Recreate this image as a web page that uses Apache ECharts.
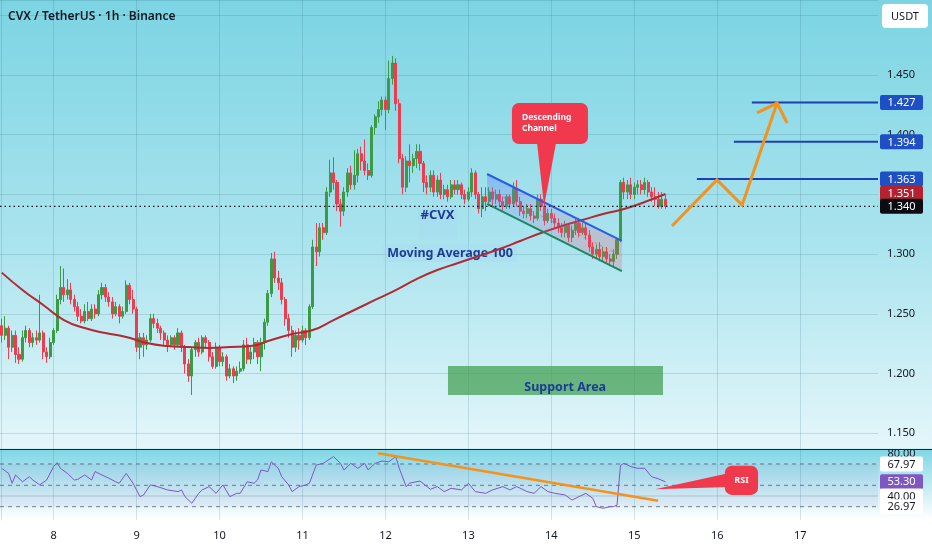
<!DOCTYPE html>
<html>
<head>
<meta charset="utf-8">
<script src="https://cdn.jsdelivr.net/npm/echarts@6/dist/echarts.min.js"></script>
<style>html,body{margin:0;padding:0;background:#fff}#c{width:932px;height:550px}</style>
</head>
<body>
<div id="c"></div>
<script>
// ---------- time slots (1h) ----------
const START_DAY = 7, START_HOUR = 9, SLOTS = 254;
const categories = [];
for (let i = 0; i < SLOTS; i++) {
  const t = START_HOUR + i;
  categories.push((START_DAY + Math.floor(t / 24)) + ' ' + String(t % 24).padStart(2, '0') + ':00');
}

// ---------- candles [open, close, low, high] ----------
const candles = [
[1.240,1.232,1.226,1.246],[1.232,1.238,1.228,1.248],[1.238,1.222,1.212,1.240],[1.222,1.232,1.218,1.236],
[1.232,1.216,1.209,1.236],[1.216,1.212,1.208,1.222],[1.212,1.230,1.210,1.236],[1.230,1.236,1.226,1.240],
[1.236,1.226,1.222,1.238],[1.226,1.230,1.222,1.234],[1.230,1.228,1.224,1.236],[1.228,1.234,1.226,1.266],
[1.234,1.218,1.212,1.236],[1.218,1.214,1.209,1.222],[1.214,1.226,1.212,1.230],[1.226,1.236,1.224,1.238],
[1.236,1.262,1.234,1.266],[1.262,1.272,1.258,1.290],[1.272,1.266,1.260,1.288],[1.266,1.270,1.262,1.279],
[1.270,1.262,1.258,1.276],[1.262,1.256,1.252,1.266],[1.256,1.248,1.244,1.260],[1.248,1.244,1.242,1.254],
[1.244,1.252,1.242,1.258],[1.252,1.246,1.244,1.260],[1.246,1.254,1.244,1.258],[1.254,1.250,1.246,1.258],
[1.250,1.266,1.248,1.270],[1.266,1.272,1.262,1.276],[1.272,1.264,1.260,1.275],[1.264,1.260,1.256,1.268],
[1.260,1.250,1.246,1.264],[1.250,1.256,1.248,1.260],[1.256,1.248,1.242,1.258],[1.248,1.252,1.246,1.256],
[1.252,1.274,1.250,1.278],[1.274,1.262,1.258,1.276],[1.262,1.254,1.250,1.270],[1.254,1.222,1.218,1.256],
[1.222,1.230,1.212,1.234],[1.230,1.224,1.214,1.234],[1.224,1.228,1.220,1.232],[1.228,1.246,1.226,1.250],
[1.246,1.242,1.238,1.250],[1.242,1.238,1.234,1.246],[1.238,1.234,1.228,1.240],[1.234,1.228,1.224,1.236],
[1.228,1.224,1.218,1.232],[1.224,1.230,1.222,1.232],[1.230,1.224,1.220,1.232],[1.224,1.234,1.222,1.238],
[1.234,1.222,1.218,1.236],[1.222,1.208,1.200,1.224],[1.208,1.198,1.193,1.212],[1.198,1.220,1.182,1.222],
[1.220,1.226,1.214,1.228],[1.226,1.218,1.214,1.230],[1.218,1.230,1.216,1.232],[1.230,1.226,1.222,1.232],
[1.226,1.214,1.210,1.228],[1.214,1.206,1.204,1.218],[1.206,1.222,1.204,1.226],[1.222,1.210,1.206,1.224],
[1.210,1.214,1.206,1.218],[1.214,1.198,1.194,1.216],[1.198,1.204,1.196,1.208],[1.204,1.198,1.192,1.206],
[1.198,1.202,1.194,1.206],[1.202,1.204,1.200,1.210],[1.204,1.224,1.202,1.228],[1.224,1.212,1.208,1.230],
[1.212,1.218,1.208,1.222],[1.218,1.226,1.212,1.230],[1.226,1.214,1.208,1.228],[1.214,1.226,1.202,1.230],
[1.226,1.243,1.220,1.246],[1.243,1.267,1.240,1.270],[1.267,1.296,1.264,1.301],[1.296,1.280,1.276,1.302],
[1.280,1.276,1.270,1.286],[1.276,1.262,1.258,1.280],[1.262,1.246,1.240,1.264],[1.246,1.236,1.230,1.250],
[1.236,1.222,1.214,1.240],[1.222,1.232,1.218,1.236],[1.232,1.228,1.220,1.238],[1.228,1.236,1.226,1.240],
[1.236,1.230,1.224,1.238],[1.230,1.256,1.228,1.258],[1.256,1.306,1.254,1.312],[1.306,1.302,1.290,1.326],
[1.302,1.322,1.298,1.326],[1.322,1.318,1.312,1.326],[1.318,1.352,1.316,1.356],[1.352,1.368,1.348,1.379],
[1.368,1.360,1.354,1.381],[1.360,1.342,1.336,1.362],[1.342,1.336,1.323,1.346],[1.336,1.352,1.332,1.356],
[1.352,1.368,1.348,1.372],[1.368,1.358,1.354,1.374],[1.358,1.366,1.354,1.387],[1.366,1.384,1.360,1.388],
[1.384,1.378,1.370,1.390],[1.378,1.370,1.366,1.396],[1.370,1.366,1.362,1.376],[1.366,1.406,1.364,1.408],
[1.406,1.415,1.400,1.417],[1.415,1.421,1.410,1.428],[1.421,1.429,1.416,1.432],[1.429,1.421,1.404,1.432],
[1.421,1.447,1.418,1.462],[1.447,1.460,1.442,1.466],[1.460,1.426,1.420,1.464],[1.426,1.380,1.376,1.430],
[1.380,1.356,1.350,1.384],[1.356,1.378,1.352,1.382],[1.378,1.374,1.360,1.392],[1.374,1.380,1.368,1.384],
[1.380,1.386,1.372,1.392],[1.386,1.376,1.370,1.392],[1.376,1.360,1.352,1.378],[1.360,1.356,1.350,1.366],
[1.356,1.366,1.352,1.370],[1.366,1.352,1.348,1.370],[1.352,1.362,1.348,1.366],[1.362,1.350,1.346,1.368],
[1.350,1.354,1.346,1.358],[1.354,1.348,1.344,1.358],[1.348,1.358,1.346,1.362],[1.358,1.354,1.350,1.362],
[1.354,1.358,1.350,1.362],[1.358,1.350,1.346,1.360],[1.350,1.346,1.342,1.354],[1.346,1.352,1.344,1.356],
[1.352,1.368,1.348,1.372],[1.368,1.350,1.346,1.370],[1.350,1.338,1.334,1.352],[1.338,1.348,1.331,1.356],
[1.348,1.344,1.336,1.356],[1.344,1.352,1.340,1.356],[1.352,1.346,1.340,1.356],[1.346,1.350,1.342,1.354],
[1.350,1.344,1.340,1.354],[1.344,1.340,1.336,1.348],[1.340,1.348,1.338,1.350],[1.348,1.342,1.338,1.350],
[1.342,1.355,1.340,1.360],[1.355,1.344,1.340,1.362],[1.344,1.336,1.332,1.348],[1.336,1.334,1.330,1.340],
[1.334,1.338,1.330,1.342],[1.338,1.332,1.328,1.342],[1.332,1.330,1.326,1.336],[1.330,1.346,1.328,1.350],
[1.346,1.340,1.336,1.350],[1.340,1.328,1.324,1.344],[1.328,1.334,1.326,1.338],[1.334,1.330,1.326,1.338],
[1.330,1.326,1.322,1.334],[1.326,1.322,1.318,1.330],[1.322,1.318,1.314,1.326],[1.318,1.324,1.314,1.328],
[1.324,1.314,1.310,1.326],[1.314,1.320,1.310,1.324],[1.320,1.326,1.316,1.330],[1.326,1.318,1.314,1.330],
[1.318,1.322,1.316,1.326],[1.322,1.316,1.312,1.326],[1.316,1.306,1.302,1.320],[1.306,1.300,1.296,1.310],
[1.300,1.304,1.296,1.308],[1.304,1.298,1.294,1.310],[1.298,1.302,1.294,1.306],[1.302,1.296,1.292,1.306],
[1.296,1.294,1.290,1.300],[1.294,1.300,1.290,1.304],[1.300,1.312,1.296,1.314],[1.312,1.360,1.310,1.362],
[1.360,1.352,1.346,1.364],[1.352,1.358,1.346,1.362],[1.358,1.350,1.346,1.364],[1.350,1.356,1.346,1.360],
[1.356,1.358,1.350,1.362],[1.358,1.354,1.350,1.362],[1.354,1.360,1.350,1.364],[1.360,1.352,1.348,1.362],
[1.352,1.348,1.344,1.356],[1.348,1.346,1.340,1.356],[1.346,1.340,1.338,1.352],[1.340,1.346,1.338,1.352],
[1.346,1.340,1.338,1.350]
];

// ---------- Moving Average 100 (read points) ----------
const maIdx = [0,6,12,18,24,30,36,42,48,54,60,66,72,78,84,90,96,102,108,114,120,126,132,138,144,150,156,162,168,174,180,186,192];
const maVal = [1.2845,1.2700,1.2574,1.2448,1.2381,1.2339,1.2306,1.2255,1.2230,1.2222,1.2214,1.2222,1.2230,1.2281,1.2331,1.2364,1.2448,1.2532,1.2616,1.2699,1.2791,1.2867,1.2925,1.2984,1.3043,1.3110,1.3177,1.3235,1.3286,1.3336,1.3378,1.3436,1.3503];

// ---------- RSI (read points) ----------
const rsiIdx = [0,2,3,4,6,8,9,11,13,15,16,17,19,21,22,24,26,27,29,31,33,34,36,38,40,41,43,45,48,51,52,53,55,57,58,60,62,64,66,68,69,71,73,74,75,77,78,80,81,83,84,86,88,89,91,93,96,98,99,101,103,105,106,108,110,112,113,114,115,117,118,121,124,126,128,130,133,135,137,140,142,145,147,149,152,154,156,158,160,163,165,167,169,171,172,174,176,177,178,179,180,182,184,186,188,190,192];
const rsiVal = [65.9,61.2,51.9,59.7,53.3,58.1,55.0,50.4,55.0,67.5,71.2,65.9,61.2,55.0,55.6,59.7,55.0,62.9,59.7,56.6,53.3,51.9,61.2,51.9,39.4,40.9,50.4,48.8,45.7,44.1,45.7,39.4,33.2,42.5,45.7,48.8,42.5,50.4,39.4,42.5,42.5,53.3,51.9,55.0,64.3,62.9,72.0,65.9,58.1,50.4,44.1,48.8,50.4,51.9,69.0,70.6,76.9,70.6,64.3,70.6,65.9,70.6,64.4,70.6,72.8,72.0,74.6,76.9,66.0,48.8,52.0,54.0,46.3,48.8,44.1,47.2,45.7,51.9,44.1,42.5,45.7,48.8,45.7,48.8,44.1,42.5,48.8,44.1,42.5,40.9,36.2,39.4,42.5,37.8,30.0,28.5,30.0,30.0,31.5,68.6,70.6,67.5,65.9,66.0,58.1,56.0,53.3];

// ---------- price levels & tags ----------
const targetLevels = [1.427, 1.394, 1.363];
const targetStart = [217.0, 211.8, 201.1];
const lastPrice = 1.340;
const maLast = 1.351;
const priceTags = [
  {v: 1.427, t: '1.427', bg: '#1f4fc4', fg: '#ffffff'},
  {v: 1.394, t: '1.394', bg: '#1f4fc4', fg: '#ffffff'},
  {v: 1.363, t: '1.363', bg: '#1f4fc4', fg: '#ffffff'},
  {v: maLast, t: '1.351', bg: '#b4222f', fg: '#ffffff'},
  {v: lastPrice, t: '1.340', bg: '#0b0d12', fg: '#ffffff'}
];

// ---------- drawings (in data units: slot index, price) ----------
const zigzag = [[193.9,1.3235],[206.9,1.3621],[214.2,1.3411],[224.3,1.4265]];
const arrowHead = [[218.5,1.4182],[224.3,1.4265],[227.2,1.4098]];
const channelUpper = [[140.4,1.3671],[179.4,1.3110]];
const channelLower = [[140.4,1.3420],[179.4,1.2858]];
const supportZone = [[129.1,1.2063],[191.3,1.1820]];
const calloutBox = [[147.6,1.4266],[169.6,1.3922]];
const calloutTip = [[154.9,1.3922],[156.9,1.3403],[160.3,1.3922]];
const cvxBox = [[120.4,1.3386],[131.7,1.3118]];
const maBox = [[110.3,1.3085],[149.1,1.2934]];

// ---------- RSI drawings (slot index, RSI value) ----------
const rsiBands = [70, 50, 30];
const rsiGrid = [40];
const rsiTrend = [[108.9,80.0],[189.9,35.5]];
const rsiCalloutBox = [[209.2,68.4],[218.8,41.0]];
const rsiCalloutTip = [[210.2,61.3],[189.0,46.3],[210.2,48.5]];
const rsiTags = [
  {v: 80, t: '80.00', bg: null, fg: '#131722'},
  {v: 70, t: '67.97', bg: '#ffffff', fg: '#131722'},
  {v: 53.3, t: '53.30', bg: '#7e57c2', fg: '#ffffff'},
  {v: 40, t: '40.00', bg: '#ffffff', fg: '#131722'},
  {v: 30, t: '26.97', bg: '#ffffff', fg: '#131722'}
];

const FONT = '"Noto Sans", "DejaVu Sans", sans-serif';
const TEXT_BLUE = '#1d3c95';
const isDay = (i, v) => typeof v === 'string' ? v.endsWith(' 00:00') : categories[i].endsWith(' 00:00');
const gridColor = 'rgba(30,90,110,0.16)';

function seg(a, b, style) {
  return {type: 'line', shape: {x1: a[0], y1: a[1], x2: b[0], y2: b[1]}, style: style};
}
function rectFrom(a, b, style, r) {
  return {type: 'rect', shape: {x: Math.min(a[0], b[0]), y: Math.min(a[1], b[1]), width: Math.abs(b[0] - a[0]), height: Math.abs(b[1] - a[1]), r: r || 0}, style: style};
}
function tag(k, x, y, t, bg, fg) {
  if (bg) k.push({type: 'rect', shape: {x: x + 2, y: y - 7.5, width: 43, height: 15, r: 2}, style: {fill: bg}});
  k.push({type: 'text', x: x + 23.5, y: y + 0.5, style: {text: t, fill: fg, font: '11px ' + FONT, align: 'center', verticalAlign: 'middle'}});
}

function mainBack(params, api) {
  const P = p => api.coord(p);
  const k = [];
  k.push(rectFrom(P(supportZone[0]), P(supportZone[1]), {fill: 'rgba(62,158,78,0.72)'}));
  k.push(rectFrom(P(cvxBox[0]), P(cvxBox[1]), {fill: 'rgba(170,215,240,0.35)'}));
  k.push(rectFrom(P(maBox[0]), P(maBox[1]), {fill: 'rgba(170,215,240,0.35)'}));
  const c1 = P([(cvxBox[0][0] + cvxBox[1][0]) / 2, 1.3325]);
  k.push({type: 'text', x: c1[0], y: c1[1], style: {text: '#CVX', fill: TEXT_BLUE, font: 'bold 13px ' + FONT, align: 'center', verticalAlign: 'middle'}});
  const c2 = P([(maBox[0][0] + maBox[1][0]) / 2, 1.3009]);
  k.push({type: 'text', x: c2[0], y: c2[1], style: {text: 'Moving Average 100', fill: TEXT_BLUE, font: 'bold 12.5px ' + FONT, align: 'center', verticalAlign: 'middle'}});
  const c3 = P([163.0, 1.1887]);
  k.push({type: 'text', x: c3[0], y: c3[1], style: {text: 'Support Area', fill: TEXT_BLUE, font: 'bold 12.5px ' + FONT, align: 'center', verticalAlign: 'middle'}});
  return {type: 'group', children: k};
}

function mainFront(params, api) {
  const P = p => api.coord(p);
  const k = [];
  const gl = api.coord([-0.5, 1.3])[0], gr = api.coord([SLOTS - 0.5, 1.3])[0];
  // channel fill (over candles, translucent)
  const u0 = P(channelUpper[0]), u1 = P(channelUpper[1]), l0 = P(channelLower[0]), l1 = P(channelLower[1]);
  const m0 = [(u0[0] + l0[0]) / 2, (u0[1] + l0[1]) / 2], m1 = [(u1[0] + l1[0]) / 2, (u1[1] + l1[1]) / 2];
  k.push({type: 'polygon', shape: {points: [u0, u1, l1, l0]}, style: {
    fill: new echarts.graphic.LinearGradient(0, 0, 0.35, 1, [
      {offset: 0, color: 'rgba(70,120,255,0.34)'},
      {offset: 0.5, color: 'rgba(150,130,220,0.22)'},
      {offset: 1, color: 'rgba(240,80,110,0.24)'}
    ])}});
  k.push(seg(m0, m1, {stroke: 'rgba(230,60,80,0.45)', lineWidth: 1, lineDash: [3, 3]}));
  k.push(seg(u0, u1, {stroke: '#2c5ce6', lineWidth: 2}));
  k.push(seg(l0, l1, {stroke: '#168a62', lineWidth: 2}));
  const yl = P([0, lastPrice])[1];
  k.push(seg([gl, yl], [gr, yl], {stroke: '#131722', lineWidth: 1.3, lineDash: [1.5, 3]}));
  targetLevels.forEach((v, i) => {
    const a = P([targetStart[i], v]);
    k.push(seg(a, [gr, a[1]], {stroke: '#1d3fb2', lineWidth: 2}));
  });
  k.push({type: 'polyline', shape: {points: zigzag.map(p => P(p))}, style: {stroke: '#f4921e', lineWidth: 3, fill: 'none', lineJoin: 'miter'}});
  k.push({type: 'polyline', shape: {points: arrowHead.map(p => P(p))}, style: {stroke: '#f4921e', lineWidth: 3, fill: 'none'}});
  // callout
  const RED = '#f0394c';
  k.push({type: 'polygon', shape: {points: calloutTip.map(p => P(p))}, style: {fill: RED}});
  k.push(rectFrom(P(calloutBox[0]), P(calloutBox[1]), {fill: RED}, 7));
  const t1 = P([150.5, 1.4140]), t2 = P([150.5, 1.4048]);
  k.push({type: 'text', x: t1[0], y: t1[1], style: {text: 'Descending', fill: '#ffffff', font: 'bold 8.5px ' + FONT, align: 'left', verticalAlign: 'middle'}});
  k.push({type: 'text', x: t2[0], y: t2[1], style: {text: 'Channel', fill: '#ffffff', font: 'bold 8.5px ' + FONT, align: 'left', verticalAlign: 'middle'}});
  priceTags.forEach(t => tag(k, gr, P([0, t.v])[1], t.t, t.bg, t.fg));
  return {type: 'group', children: k};
}

function rsiBack(params, api) {
  const P = p => api.coord(p);
  const k = [];
  const gl = api.coord([-0.5, 50])[0], gr = api.coord([SLOTS - 0.5, 50])[0];
  const top = P([0, rsiBands[0]])[1], bot = P([0, rsiBands[2]])[1];
  k.push({type: 'rect', shape: {x: gl, y: top, width: gr - gl, height: bot - top}, style: {fill: 'rgba(126,87,194,0.07)'}});
  rsiGrid.forEach(v => { const y = P([0, v])[1]; k.push(seg([gl, y], [gr, y], {stroke: 'rgba(90,110,120,0.3)', lineWidth: 1})); });
  rsiBands.forEach(v => { const y = P([0, v])[1]; k.push(seg([gl, y], [gr, y], {stroke: 'rgba(70,80,95,0.7)', lineWidth: 1, lineDash: [4, 4]})); });
  return {type: 'group', children: k};
}

function rsiFront(params, api) {
  const P = p => api.coord(p);
  const k = [];
  const gr = api.coord([SLOTS - 0.5, 50])[0];
  k.push(seg(P(rsiTrend[0]), P(rsiTrend[1]), {stroke: '#f4921e', lineWidth: 2.5}));
  const RED = '#f0394c';
  k.push({type: 'polygon', shape: {points: rsiCalloutTip.map(p => P(p))}, style: {fill: RED}});
  k.push(rectFrom(P(rsiCalloutBox[0]), P(rsiCalloutBox[1]), {fill: RED}, 7));
  const c = P([(rsiCalloutBox[0][0] + rsiCalloutBox[1][0]) / 2, (rsiCalloutBox[0][1] + rsiCalloutBox[1][1]) / 2]);
  k.push({type: 'text', x: c[0], y: c[1], style: {text: 'RSI', fill: '#ffffff', font: 'bold 9px ' + FONT, align: 'center', verticalAlign: 'middle'}});
  rsiTags.forEach(t => tag(k, gr, P([0, t.v])[1], t.t, t.bg, t.fg));
  return {type: 'group', children: k};
}

const chart = echarts.init(document.getElementById('c'));
chart.setOption({
  animation: false,
  backgroundColor: {
    type: 'linear', x: 0, y: 0, x2: 0, y2: 1,
    colorStops: [
      {offset: 0, color: '#7cd4e3'},
      {offset: 0.45, color: '#abe4ee'},
      {offset: 0.815, color: '#e4f6fa'},
      {offset: 0.817, color: '#80d6e5'},
      {offset: 0.945, color: '#ffffff'},
      {offset: 1, color: '#ffffff'}
    ]
  },
  grid: [
    {left: 0, right: 54, top: 0, height: 449},
    {left: 0, right: 54, top: 450, height: 70}
  ],
  xAxis: [
    {type: 'category', gridIndex: 0, data: categories, boundaryGap: true,
     axisLine: {show: false}, axisTick: {show: false, alignWithLabel: true}, axisLabel: {show: false},
     splitLine: {show: true, interval: isDay, alignWithLabel: true, lineStyle: {color: gridColor}}},
    {type: 'category', gridIndex: 1, data: categories, boundaryGap: true,
     axisLine: {show: false}, axisTick: {show: false, alignWithLabel: true},
     axisLabel: {show: true, interval: isDay, formatter: v => v.split(' ')[0], color: '#131722', fontSize: 11, fontFamily: FONT, margin: 10},
     splitLine: {show: true, interval: isDay, alignWithLabel: true, lineStyle: {color: gridColor}}},
    {type: 'value', gridIndex: 0, min: -0.5, max: SLOTS - 0.5, show: false},
    {type: 'value', gridIndex: 1, min: -0.5, max: SLOTS - 0.5, show: false}
  ],
  yAxis: [
    {type: 'value', gridIndex: 0, position: 'right', min: 1.1368, max: 1.5128, splitNumber: 8, scale: true,
     axisLine: {show: true, lineStyle: {color: 'rgba(60,90,100,0.18)'}}, axisTick: {show: false},
     axisLabel: {color: '#131722', fontSize: 11, fontFamily: FONT, margin: 9, showMinLabel: false, showMaxLabel: false,
       formatter: v => { const q = Math.round(v / 0.05); return (Math.abs(v - q * 0.05) > 1e-6 || q * 0.05 > 1.475) ? '' : v.toFixed(3); }},
     splitLine: {show: true, lineStyle: {color: gridColor}}},
    {type: 'value', gridIndex: 1, position: 'right', min: 17.5, max: 83.1,
     axisLine: {show: true, lineStyle: {color: 'rgba(60,90,100,0.18)'}}, axisTick: {show: false},
     axisLabel: {show: false}, splitLine: {show: false}}
  ],
  series: [
    {type: 'custom', xAxisIndex: 2, yAxisIndex: 0, data: [[0, 1.3]], renderItem: mainBack, z: 1, silent: true},
    {type: 'candlestick', xAxisIndex: 0, yAxisIndex: 0, data: candles, barWidth: '74%', z: 2,
     itemStyle: {color: '#3a9a46', color0: '#ee3b4d', borderColor: '#3a9a46', borderColor0: '#ee3b4d', borderWidth: 1}},
    {type: 'line', xAxisIndex: 2, yAxisIndex: 0, data: maIdx.map((x, i) => [x, maVal[i]]), smooth: true, symbol: 'none', z: 3,
     lineStyle: {color: '#b02a35', width: 2}},
    {type: 'custom', xAxisIndex: 2, yAxisIndex: 0, data: [[0, 1.3]], renderItem: mainFront, z: 5, silent: true},
    {type: 'custom', xAxisIndex: 3, yAxisIndex: 1, data: [[0, 50]], renderItem: rsiBack, z: 1, silent: true},
    {type: 'line', xAxisIndex: 3, yAxisIndex: 1, data: rsiIdx.map((x, i) => [x, rsiVal[i]]), symbol: 'none', z: 3,
     lineStyle: {color: '#7e57c2', width: 1}},
    {type: 'custom', xAxisIndex: 3, yAxisIndex: 1, data: [[0, 50]], renderItem: rsiFront, z: 5, silent: true}
  ],
  graphic: [
    {type: 'line', shape: {x1: 0, y1: 449.5, x2: 932, y2: 449.5}, style: {stroke: '#1f2430', lineWidth: 1.2}, z: 100},
    {type: 'rect', shape: {x: 882, y: 4, width: 46, height: 24, r: 4}, style: {fill: '#ffffff'}, z: 100},
    {type: 'text', x: 905, y: 16.5, style: {text: 'USDT', fill: '#131722', font: '11px ' + FONT, align: 'center', verticalAlign: 'middle'}, z: 101},
    {type: 'text', x: 8, y: 16.5, style: {text: 'CVX / TetherUS · 1h · Binance', fill: '#131722', font: '600 12px ' + FONT, align: 'left', verticalAlign: 'middle'}, z: 101}
  ]
});
</script>
</body>
</html>
